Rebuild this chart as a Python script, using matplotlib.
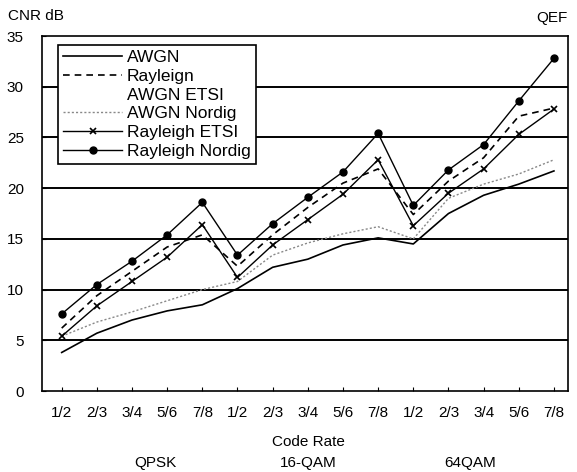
import matplotlib
matplotlib.use("Agg")
import matplotlib.pyplot as plt
import numpy as np

plt.rcParams['font.family'] = ['Liberation Sans', 'DejaVu Sans']

rates = ["1/2", "2/3", "3/4", "5/6", "7/8"] * 3
groups = ["QPSK", "16-QAM", "64QAM"]

awgn = [3.8, 5.7, 7.0, 7.9, 8.5, 10.1, 12.2, 13.0, 14.4, 15.1, 14.5, 17.5, 19.3, 20.4, 21.7]
rayleign = [6.2, 9.4, 11.8, 14.2, 15.4, 12.3, 15.4, 18.1, 20.5, 21.9, 17.4, 20.7, 23.0, 27.1, 27.9]
awgn_etsi = [np.nan] * 15
awgn_nordig = [5.4, 6.8, 7.8, 8.9, 10.0, 10.8, 13.4, 14.6, 15.5, 16.2, 15.0, 19.0, 20.4, 21.4, 22.8]
rayleigh_etsi = [5.4, 8.4, 10.8, 13.2, 16.4, 11.2, 14.4, 16.9, 19.4, 22.8, 16.3, 19.5, 21.9, 25.3, 27.8]
rayleigh_nordig = [7.6, 10.5, 12.8, 15.4, 18.6, 13.4, 16.5, 19.1, 21.6, 25.4, 18.3, 21.8, 24.3, 28.6, 32.8]

x = np.arange(len(rates))

fig = plt.figure(figsize=(5.77, 4.72), dpi=100)
ax = fig.add_axes([0.0728, 0.1716, 0.9116, 0.752])

for yv in range(5, 35, 5):
    ax.axhline(yv, color="black", lw=1.4, zorder=1)

ax.plot(x, awgn, color="black", lw=1.2, label="AWGN", zorder=3)
ax.plot(x, rayleign, color="black", lw=1.2, ls=(0, (4, 3)), label="Rayleign", zorder=3)
ax.plot(x, awgn_etsi, color="white", lw=0, label="AWGN ETSI")
ax.plot(x, awgn_nordig, color="#888888", lw=1.0, ls=(0, (1.5, 1.5)), label="AWGN Nordig", zorder=3)
ax.plot(x, rayleigh_etsi, color="black", lw=1.0, marker="x", ms=5, mew=1.2,
        label="Rayleigh ETSI", zorder=4)
ax.plot(x, rayleigh_nordig, color="black", lw=1.0, marker="o", ms=5,
        label="Rayleigh Nordig", zorder=4)

ax.set_xlim(-0.56, 14.4)
ax.set_ylim(0, 35)
ax.set_yticks(range(0, 36, 5))
ax.set_xticks(x)
ax.set_xticklabels(rates)
ax.tick_params(direction="in", length=3, labelsize=11, pad=11)
ax.tick_params(axis="y", pad=13)
for s in ax.spines.values():
    s.set_linewidth(1.2)

leg = ax.legend(loc="upper left", bbox_to_anchor=(0.014, 0.999), fontsize=12.5,
                handlelength=3.4, handletextpad=0.25, labelspacing=0.2,
                borderpad=0.3, frameon=True, fancybox=False, framealpha=1,
                edgecolor="black")
leg.get_frame().set_linewidth(1.2)
leg.set_zorder(5)

fig.text(0.014, 0.967, "CNR dB", fontsize=11, va="center", ha="left")
fig.text(0.93, 0.962, "QEF", fontsize=11, va="center", ha="left")
fig.text(0.535, 0.063, "Code Rate", fontsize=11, ha="center", va="center")
for gx, g in zip([0.27, 0.535, 0.815], groups):
    fig.text(gx, 0.02, g, fontsize=11, ha="center", va="center")

fig.savefig("out.png", dpi=100)
